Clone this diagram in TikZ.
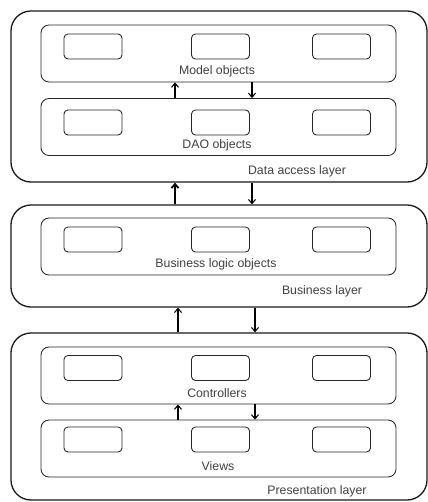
\documentclass[tikz,border=0pt]{standalone}
\usepackage{fontspec}
\setmainfont{Liberation Sans}
\usepackage{tikz}
\usetikzlibrary{arrows, arrows.meta, calc, positioning}

\tikzset{
  layer/.style={draw=black!90, rounded corners=0.6cm, minimum width=12.48cm, line width=1.1pt, inner sep=0pt},
  group/.style={draw=black!85, rounded corners=0.24cm, minimum width=10.65cm, minimum height=1.71cm, line width=0.75pt, inner sep=0pt},
  obj/.style={draw=black!85, rounded corners=0.12cm, minimum width=1.74cm, minimum height=0.75cm, line width=0.75pt, inner sep=0pt},
  txt/.style={text=black!75, font=\fontsize{10.5}{12}\selectfont, inner sep=1pt},
  flow/.style={line width=0.9pt, >={Straight Barb[length=3.5pt, width=6pt]}}
}

\begin{document}
\begin{tikzpicture}[x=0.03cm, y=-0.03cm]
                        \useasboundingbox (0, 0) rectangle (428, 502);

                        % layers
                        \node[layer, minimum height=5.13cm] (data) at (219, 96.5) {};
                        \node[layer, minimum height=3.06cm] (bus) at (219, 256) {};
                        \node[layer, minimum height=5.01cm] (pres) at (219, 416.5) {};

                        % groups of objects
                        \node[group] (model) at (218.5, 53.5) {};
                        \node[group] (dao) at (218.5, 127) {};
                        \node[group] (blo) at (218.5, 246.5) {};
                        \node[group] (ctrl) at (218.5, 375.5) {};
                        \node[group] (views) at (218.5, 448.5) {};

                        \node[obj] (m1) at (93, 46.5) {};
                        \node[obj] (m2) at (220.5, 46.5) {};
                        \node[obj] (m3) at (341.5, 46.5) {};
                        \node[obj] (d1) at (93, 122.5) {};
                        \node[obj] (d2) at (220.5, 122.5) {};
                        \node[obj] (d3) at (341.5, 122.5) {};
                        \node[obj] (b1) at (93, 239.5) {};
                        \node[obj] (b2) at (220.5, 239.5) {};
                        \node[obj] (b3) at (341.5, 239.5) {};
                        \node[obj] (c1) at (93, 368) {};
                        \node[obj] (c2) at (220.5, 368) {};
                        \node[obj] (c3) at (341.5, 368) {};
                        \node[obj] (v1) at (93, 439.5) {};
                        \node[obj] (v2) at (220.5, 439.5) {};
                        \node[obj] (v3) at (341.5, 439.5) {};

                        % labels
                        \node[txt] (tmodel) at (217, 71.5) {Model objects};
                        \node[txt] (tdao) at (217, 145.5) {DAO objects};
                        \node[txt] (tdata) at (297, 171) {Data access layer};
                        \node[txt] (tblo) at (216, 264) {Business logic objects};
                        \node[txt] (tbus) at (322, 291) {Business layer};
                        \node[txt] (tctrl) at (217, 393.5) {Controllers};
                        \node[txt] (tviews) at (218, 466.5) {Views};
                        \node[txt] (tpres) at (317, 491) {Presentation layer};

                        \coordinate (up1) at (175, 0);
                        \coordinate (dn1) at (252, 0);
                        \coordinate (up2) at (178, 0);
                        \coordinate (dn2) at (255, 0);

                        \draw[flow, ->]
                        (dao.north -| up1) -- (model.south -| up1);
                        \draw[flow, <-]
                        (dao.north -| dn1) -- (model.south -| dn1);

                        \draw[flow, ->, line width=1.5pt]
                        (bus.north -| up1) -- (data.south -| up1);
                        \draw[flow, <-]
                        (bus.north -| dn1) -- (data.south -| dn1);

                        \draw[flow, ->]
                        (pres.north -| up2) -- (bus.south -| up2);
                        \draw[flow, <-]
                        (pres.north -| dn2) -- (bus.south -| dn2);

                        \draw[flow, ->]
                        (views.north -| up2) -- (ctrl.south -| up2);
                        \draw[flow, <-]
                        (views.north -| dn2) -- (ctrl.south -| dn2);
                    \end{tikzpicture}
\end{document}
